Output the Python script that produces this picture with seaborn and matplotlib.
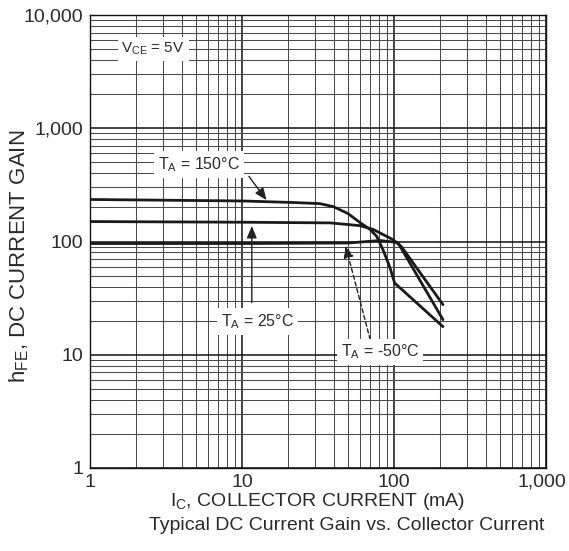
import matplotlib
matplotlib.use("Agg")
import matplotlib.pyplot as plt
import matplotlib.ticker as mticker
import matplotlib.transforms as mtransforms
import seaborn as sns
import pandas as pd
import numpy as np

# ---- data ----
ic_150 = [1, 10, 21.7, 32.5, 40, 50, 59.7, 69.5, 77, 84.5, 94, 101, 210]
hfe_150 = [235, 228, 221, 216, 203, 176, 147, 128, 111, 85, 59, 43, 17.7]

ic_25 = [1, 10, 38, 59.7, 72.8, 98.3, 112, 210]
hfe_25 = [150, 148, 146, 138, 128, 104, 90, 27.7]

ic_m50 = [1, 10, 50, 81, 106, 210]
hfe_m50 = [96, 96, 97, 102, 98, 20.4]

x_ticks = [1, 10, 100, 1000]
x_tick_labels = ["1", "10", "100", "1,000"]
y_ticks = [1, 10, 100, 1000, 10000]
y_tick_labels = ["1", "10", "100", "1,000", "10,000"]

frames = []
for lab, xs, ys in [("150", ic_150, hfe_150), ("25", ic_25, hfe_25), ("-50", ic_m50, hfe_m50)]:
    frames.append(pd.DataFrame({"ic": xs, "hfe": ys, "temp": lab}))
df = pd.concat(frames, ignore_index=True)

sns.set_theme(style="white")
plt.rcParams["font.family"] = ["Liberation Sans", "DejaVu Sans"]
plt.rcParams["mathtext.default"] = "regular"

W, H = 569, 551
TXT = "#2a2a2a"
fig = plt.figure(figsize=(W / 100, H / 100), dpi=100)
ax = fig.add_axes([90 / W, 1 - 468 / H, 456 / W, 453 / H])

ax.set_xscale("log")
ax.set_yscale("log")
ax.set_xlim(1, 1000)
ax.set_ylim(1, 10000)

# grid
ax.xaxis.set_minor_locator(mticker.LogLocator(base=10, subs=np.arange(2, 10)))
ax.yaxis.set_minor_locator(mticker.LogLocator(base=10, subs=np.arange(2, 10)))
ax.grid(which="major", color="#111111", linewidth=1.1)
ax.grid(which="minor", color="#4a4a4a", linewidth=0.75)
ax.set_axisbelow(True)

for t in ["150", "25", "-50"]:
    sub = df[df["temp"] == t]
    sns.lineplot(data=sub, x="ic", y="hfe", ax=ax, color="#1a1a1a", linewidth=2.0,
                 sort=False, estimator=None, legend=False)

ax.set_xticks(x_ticks)
ax.set_xticklabels(x_tick_labels)
ax.set_yticks(y_ticks)
ax.set_yticklabels(y_tick_labels)
ax.xaxis.set_minor_formatter(mticker.NullFormatter())
ax.yaxis.set_minor_formatter(mticker.NullFormatter())
ax.tick_params(which="both", length=0, labelsize=14, colors=TXT)
ax.tick_params(axis="x", pad=4)
ax.tick_params(axis="y", pad=5)
# nudge the last x tick label left so it stays inside the figure
lbl = ax.get_xticklabels()[-1]
lbl.set_transform(lbl.get_transform() + mtransforms.ScaledTranslation(-4 / 100, 0, fig.dpi_scale_trans))

for s in ax.spines.values():
    s.set_color("#111111")
    s.set_linewidth(1.0)

ax.set_xlabel("")
ax.set_ylabel("")
fig.text(318 / W, 1 - 501 / H, "I$_{C}$, COLLECTOR CURRENT (mA)", fontsize=14,
         ha="center", va="center", color=TXT)
fig.text(19 / W, 1 - 256 / H, "h$_{FE}$, DC CURRENT GAIN", fontsize=16, rotation=90,
         ha="center", va="center", color=TXT)
fig.text(347 / W, 1 - 526 / H, "Typical DC Current Gain vs. Collector Current",
         fontsize=14, ha="center", va="center", color=TXT)

box = dict(boxstyle="square,pad=0.25", facecolor="white", edgecolor="none")
ax.text(2.6, 5000, "V$_{CE}$ = 5V", fontsize=11, ha="center", va="center", bbox=box, color=TXT)

# 150 C
ax.text(5.2, 480, "T$_{A}$ = 150°C", fontsize=11.5, ha="center", va="center", bbox=box, color=TXT)
ax.annotate("", xy=(14.5, 232), xytext=(11.1, 376),
            arrowprops=dict(arrowstyle="-|>,head_length=0.6,head_width=0.25", color="#222222",
                            lw=1.0, shrinkA=0, shrinkB=0))

# 25 C
ax.annotate("", xy=(11.6, 145), xytext=(11.6, 28.9),
            arrowprops=dict(arrowstyle="-|>,head_length=0.6,head_width=0.25", color="#222222",
                            lw=1.0, shrinkA=0, shrinkB=2))
ax.text(12.7, 19.6, "T$_{A}$ = 25°C", fontsize=11.5, ha="center", va="center", bbox=box, color=TXT)

# -50 C
ax.annotate("", xy=(48, 92), xytext=(69.7, 13.6),
            arrowprops=dict(arrowstyle="-|>,head_length=0.6,head_width=0.25", color="#222222",
                            lw=1.0, linestyle=(0, (3, 2)), shrinkA=0, shrinkB=0))
ax.text(81, 10.6, "T$_{A}$ = -50°C", fontsize=11.5, ha="center", va="center", bbox=box, color=TXT)

fig.savefig("out.png", dpi=100, facecolor="white")
